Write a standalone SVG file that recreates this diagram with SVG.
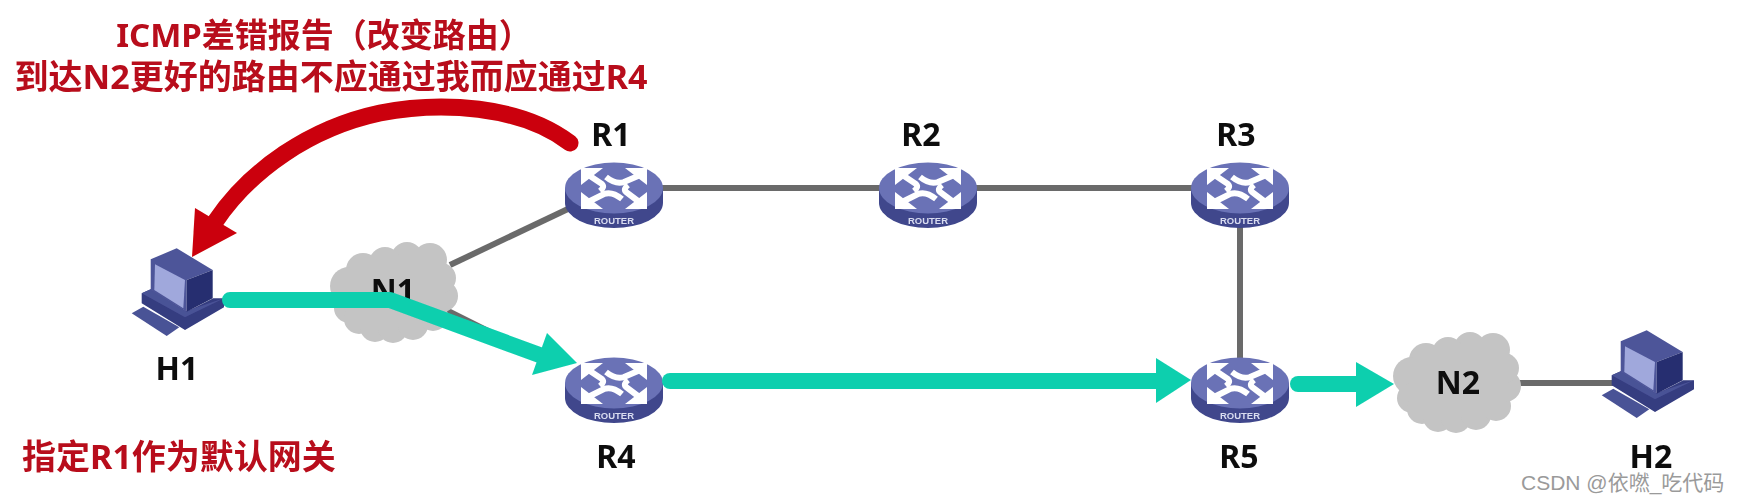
<svg xmlns="http://www.w3.org/2000/svg" width="1738" height="502" viewBox="0 0 1738 502">
<style>
.t{font-family:"Noto Sans","Noto Sans CJK SC",sans-serif;font-weight:700;font-size:32px}
.lab{fill:#0a0a0a;text-anchor:middle}
.red{fill:#b8101a;text-anchor:middle;font-size:34px}
.gray{stroke:#6b6b6b;stroke-width:6;fill:none}
.teal{stroke:#0ccfae;stroke-width:16;fill:none}
.tealh{fill:#0ccfae}
.rt{font-family:"Liberation Sans",sans-serif;font-weight:700;font-size:9.5px;fill:#d9dcf0;text-anchor:middle}
#connectors,#flows,#labels,#N1,#N2,#H1,#H2,#R1,#R2,#R3,#R4,#R5{filter:url(#soft)}
</style>
<defs>
<filter id="soft" x="-5%" y="-5%" width="110%" height="110%"><feGaussianBlur stdDeviation="0.6"/></filter>
<g id="router">
<path d="M-49,0 V15 A49,25 0 0 0 49,15 V0 Z" fill="#3f478c"/>
<ellipse cx="0" cy="0" rx="49" ry="25.5" fill="#6a72b6"/>
<g fill="#fff">
<polygon points="-33,-20 -11,-20 -33,-3"/><polygon points="33,-20 11,-20 33,-3"/>
<polygon points="-33,21 -11,21 -33,4"/><polygon points="33,21 11,21 33,4"/>
</g>
<g fill="none" stroke="#fff" stroke-width="6">
<path d="M-24,-12 L-12,-4 Q-9,-1 -14,3"/>
<path d="M24,-12 L10,-6 Q2,-3 -8,-11"/>
<path d="M-24,13 L-10,6 Q-2,3 8,11"/>
<path d="M24,13 L12,4 Q9,1 14,-3"/>
</g>
</g>
<g id="cloud" fill="#c4c4c4">
<circle cx="12" cy="-34" r="16"/><circle cx="35" cy="-32" r="17"/><circle cx="-10" cy="-29" r="16"/><circle cx="-32" cy="-22" r="17"/>
<circle cx="-46" cy="-6" r="19"/><circle cx="-46" cy="16" r="15"/><circle cx="-36" cy="27" r="15"/><circle cx="-20" cy="35" r="15"/>
<circle cx="-2" cy="36" r="15"/><circle cx="18" cy="33" r="15"/><circle cx="38" cy="24" r="15"/><circle cx="47" cy="4" r="16"/><circle cx="46" cy="-14" r="15"/>
<rect x="-45" y="-32" width="90" height="66"/>
</g>
<g id="host">
<polygon points="131.7,313.3 143.3,306.7 179.3,327.3 166.7,336" fill="#4a5296"/>
<polygon points="141.7,293.3 150.7,289.3 186.7,311.7 213.3,298.3 224,298.3 224,307.3 185,330 141.7,303.3" fill="#343c80"/>
<polygon points="141.7,293.3 150.7,289.3 186,311 224,298.3 185,317.3" fill="#4a5296"/>
<polygon points="150.7,259.3 176.7,248.3 212.7,270 186.7,280 186.7,311.7 150.7,290" fill="#4d5599"/>
<polygon points="186.7,280 212.7,270 212.7,298.3 186.7,311.7" fill="#262e70"/>
<polygon points="155,264.3 185,280 183.3,308.3 154.3,290" fill="#a0a8dc"/>
</g>
</defs>

<g id="connectors">
<line class="gray" x1="614" y1="188" x2="928" y2="188"/>
<line class="gray" x1="928" y1="188" x2="1240" y2="188"/>
<line class="gray" x1="1240" y1="190" x2="1240" y2="380"/>
<line class="gray" x1="450" y1="265" x2="570" y2="208"/>
<line class="gray" x1="430" y1="302" x2="490" y2="332"/>
<line class="gray" x1="1500" y1="383" x2="1615" y2="383"/>
</g>

<g id="N1"><use href="#cloud" x="395" y="292"/><text class="t lab" x="393" y="302">N1</text></g>
<g id="N2"><use href="#cloud" x="1458" y="382"/><text class="t lab" x="1458" y="394">N2</text></g>
<g id="H1"><use href="#host"/><text class="t lab" x="177" y="380">H1</text></g>
<g id="H2"><use href="#host" x="1470" y="82"/><text class="t lab" x="1651" y="468">H2</text></g>
<g id="R1"><use href="#router" x="614" y="188"/><text class="rt" x="614" y="224">ROUTER</text><text class="t lab" x="611" y="146">R1</text></g>
<g id="R2"><use href="#router" x="928" y="188"/><text class="rt" x="928" y="224">ROUTER</text><text class="t lab" x="921" y="146">R2</text></g>
<g id="R3"><use href="#router" x="1240" y="188"/><text class="rt" x="1240" y="224">ROUTER</text><text class="t lab" x="1236" y="146">R3</text></g>
<g id="R4"><use href="#router" x="614" y="383"/><text class="rt" x="614" y="419">ROUTER</text><text class="t lab" x="616" y="468">R4</text></g>
<g id="R5"><use href="#router" x="1240" y="383"/><text class="rt" x="1240" y="419">ROUTER</text><text class="t lab" x="1239" y="468">R5</text></g>

<g id="flows">
<path class="teal" d="M230,300 H390 L545,357" stroke-linecap="round" stroke-linejoin="round"/>
<polygon class="tealh" points="547,333 577,363 532,375"/>
<path class="teal" d="M670,381 H1160" stroke-linecap="round"/>
<polygon class="tealh" points="1156,358 1191,380 1156,403"/>
<path class="teal" d="M1298,384 H1360" stroke-linecap="round"/>
<polygon class="tealh" points="1356,362 1394,384 1356,407"/>
<path d="M570,143 C520,105 440,101 380,113 C310,128 250,170 215,222" fill="none" stroke="#cb0008" stroke-width="17" stroke-linecap="round"/>
<polygon points="195,208 237,233 192,257" fill="#cb0008"/>
</g>

<g id="labels">
<text class="t red" x="324" y="47" style="font-size:33px">ICMP差错报告（改变路由）</text>
<text class="t red" x="331" y="89">到达N2更好的路由不应通过我而应通过R4</text>
<text class="t red" x="179" y="469">指定R1作为默认网关</text>
</g>
<g id="watermark"><text x="1521" y="490" font-family="'Liberation Sans','Noto Sans CJK SC',sans-serif" font-size="21" fill="#9a9a9a">CSDN @依嘫_吃代码</text></g>
</svg>
